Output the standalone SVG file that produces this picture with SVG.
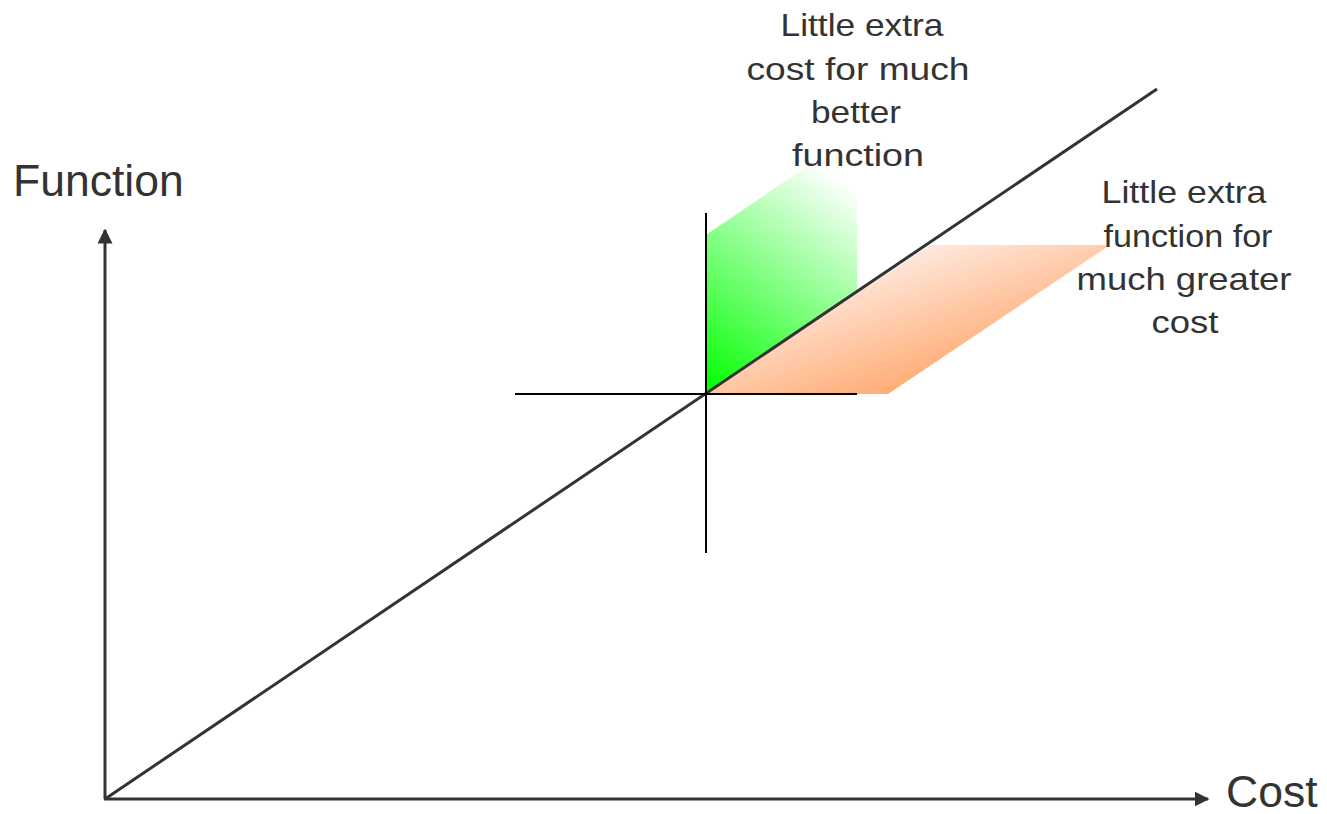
<svg xmlns="http://www.w3.org/2000/svg" width="1327" height="814" viewBox="0 0 1327 814">
<style>
.axis{stroke:#333;stroke-width:3;fill:none}
.cross{stroke:#000;stroke-width:2;fill:none}
.lbl{font-family:"Liberation Sans",Arial,sans-serif;fill:#333}
.big{font-size:44.5px}
.small{font-size:32px;text-anchor:middle}
</style>
<defs>
<marker id="arr" viewBox="0 0 10 10" refX="9" refY="5" markerWidth="5" markerHeight="5" markerUnits="strokeWidth" orient="auto">
<path d="M0,0 L10,5 L0,10 z" fill="#333"/>
</marker>
<linearGradient id="gGreen" gradientUnits="userSpaceOnUse" x1="706" y1="394" x2="857" y2="190">
<stop offset="0" stop-color="#00ff00"/>
<stop offset="1" stop-color="#ffffff"/>
</linearGradient>
<linearGradient id="gOrange" gradientUnits="userSpaceOnUse" x1="880" y1="245" x2="930" y2="394">
<stop offset="0" stop-color="#fff0ea"/>
<stop offset="1" stop-color="#ffa66a"/>
</linearGradient>
</defs>
<g id="regions">
<polygon id="green-region" points="706,394 706,235 806,167 857,167 857,291" fill="url(#gGreen)"/>
<polygon id="orange-region" points="706,394 930,245 1110,245 888,394" fill="url(#gOrange)"/>
</g>
<g id="connectors">
<line class="axis" x1="105" y1="799" x2="105" y2="230" marker-end="url(#arr)"/>
<line class="axis" x1="104" y1="799" x2="1208" y2="799" marker-end="url(#arr)"/>
<line class="axis" x1="105" y1="799" x2="1157" y2="89"/>
<line class="cross" x1="515" y1="394" x2="857" y2="394"/>
<line class="cross" x1="706" y1="213" x2="706" y2="553"/>
</g>
<g id="label-function"><text class="lbl big" x="13" y="196">Function</text></g>
<g id="label-cost"><text class="lbl big" x="1226" y="807">Cost</text></g>
<g id="label-green" class="lbl small">
<text x="862" y="36" textLength="163" lengthAdjust="spacingAndGlyphs">Little extra</text>
<text x="858" y="80" textLength="223" lengthAdjust="spacingAndGlyphs">cost for much</text>
<text x="856" y="123" textLength="90" lengthAdjust="spacingAndGlyphs">better</text>
<text x="858" y="166" textLength="132" lengthAdjust="spacingAndGlyphs">function</text>
</g>
<g id="label-orange" class="lbl small">
<text x="1184" y="203" textLength="165" lengthAdjust="spacingAndGlyphs">Little extra</text>
<text x="1188" y="247" textLength="169" lengthAdjust="spacingAndGlyphs">function for</text>
<text x="1184" y="290" textLength="215" lengthAdjust="spacingAndGlyphs">much greater</text>
<text x="1185" y="333" textLength="67" lengthAdjust="spacingAndGlyphs">cost</text>
</g>
</svg>
